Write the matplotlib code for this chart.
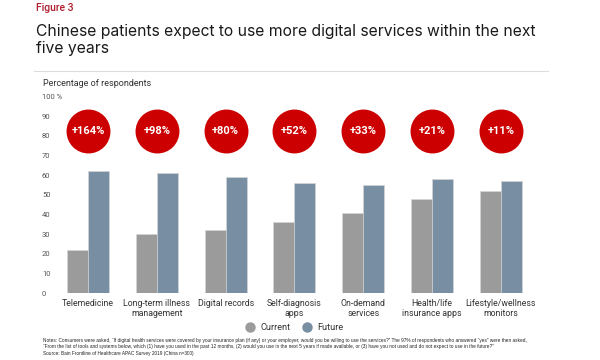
import matplotlib
matplotlib.use("Agg")
import matplotlib.pyplot as plt
import numpy as np
from matplotlib.lines import Line2D

categories = ["Telemedicine", "Long-term illness\nmanagement", "Digital records",
              "Self-diagnosis\napps", "On-demand\nservices", "Health/life\ninsurance apps",
              "Lifestyle/wellness\nmonitors"]
current = [22, 30, 32, 36, 41, 48, 52]
future = [62, 61, 59, 56, 55, 58, 57]
growth = ["+164%", "+98%", "+80%", "+52%", "+33%", "+21%", "+11%"]
yticks = [0, 10, 20, 30, 40, 50, 60, 70, 80, 90, 100]
ytick_labels = ["0", "10", "20", "30", "40", "50", "60", "70", "80", "90", "100 %"]

W, H = 600, 360
fig = plt.figure(figsize=(6, 3.6), dpi=100)
fig.patch.set_facecolor("white")

# axes: x 62..560 px, y 0 -> 293 px, 100 -> 96.7 px
L, R = 62, 560
B, T = 293, 96.7
ax = fig.add_axes([L / W, (H - B) / H, (R - L) / W, (B - T) / H])
ax.set_facecolor("white")

x = np.arange(len(categories))
bw = 0.305
c_cur = "#9b9b9b"
c_fut = "#778ea3"
ax.bar(x - bw / 2, current, width=bw, color=c_cur, edgecolor="#d8d8d8", linewidth=0.4)
ax.bar(x + bw / 2, future, width=bw, color=c_fut, edgecolor="#d8d8d8", linewidth=0.4)

# growth circles
circ_y = 82.7
ax.scatter(x, [circ_y] * len(x), s=1000, color="#cc0000", zorder=3, linewidths=0)
for xi, g in zip(x, growth):
    ax.text(xi, circ_y, g, ha="center", va="center", color="white",
            fontsize=8, fontweight="bold", family="Roboto", zorder=4)

ax.set_xlim((L - 88) / 68.8, (R - 88) / 68.8)
ax.set_ylim(0, 100)
ax.set_yticks(yticks)
ax.set_yticklabels(ytick_labels, fontsize=5.5, color="#555555", family="Roboto")
for lab in ax.get_yticklabels():
    lab.set_horizontalalignment("left")
ax.tick_params(axis="y", length=0, pad=14.4)
ax.set_xticks(x)
ax.set_xticklabels(categories, fontsize=6.3, color="#333333", family="Roboto",
                   linespacing=1.25)
ax.tick_params(axis="x", length=0, pad=4)
for s in ax.spines.values():
    s.set_visible(False)

# header texts
fig.text(35.5 / W, 1 - 8 / H, "Figure 3", fontsize=7.5, color="#b01c2e",
         family="Roboto", fontweight="medium", va="center", ha="left")
fig.text(35.5 / W, 1 - 40 / H,
         "Chinese patients expect to use more digital services within the next\nfive years",
         fontsize=11.3, color="#1a1a1a", family="Inter", va="center", ha="left",
         linespacing=1.2)
fig.add_artist(Line2D([34 / W, 548 / W], [1 - 71 / H, 1 - 71 / H],
                      color="#dddddd", linewidth=0.8))
fig.text(43 / W, 1 - 83 / H, "Percentage of respondents", fontsize=6.5,
         color="#333333", family="Roboto", va="center", ha="left")

# legend
handles = [Line2D([], [], marker="o", linestyle="none", markersize=6.5,
                  markerfacecolor=c_cur, markeredgecolor=c_cur, label="Current"),
           Line2D([], [], marker="o", linestyle="none", markersize=6.5,
                  markerfacecolor=c_fut, markeredgecolor=c_fut, label="Future")]
leg = fig.legend(handles=handles, loc="center", bbox_to_anchor=(292 / W, 1 - 327.5 / H),
                 ncol=2, frameon=False, handletextpad=0.1,
                 columnspacing=0.8, prop={"family": "Roboto", "size": 6.6})
for t in leg.get_texts():
    t.set_color("#333333")

notes = ("Notes: Consumers were asked, \u201cIf digital health services were covered by your insurance plan (if any) or your employer, "
         "would you be willing to use the services?\u201d The 97% of respondents who answered \u201cyes\u201d were then asked,\n"
         "\u201cFrom the list of tools and systems below, which (1) have you used in the past 12 months, (2) would you use in the next "
         "5 years if made available, or (3) have you not used and do not expect to use in the future?\u201d")
fig.text(43 / W, 1 - 343.5 / H, notes, fontsize=3.45, color="#222222", family="Liberation Sans",
         va="center", ha="left", linespacing=1.35)
fig.text(43 / W, 1 - 353.5 / H, "Source: Bain Frontline of Healthcare APAC Survey 2019 (China n=300)",
         fontsize=3.45, color="#222222", family="Liberation Sans", va="center", ha="left")

fig.savefig("out.png", dpi=100, facecolor="white")
